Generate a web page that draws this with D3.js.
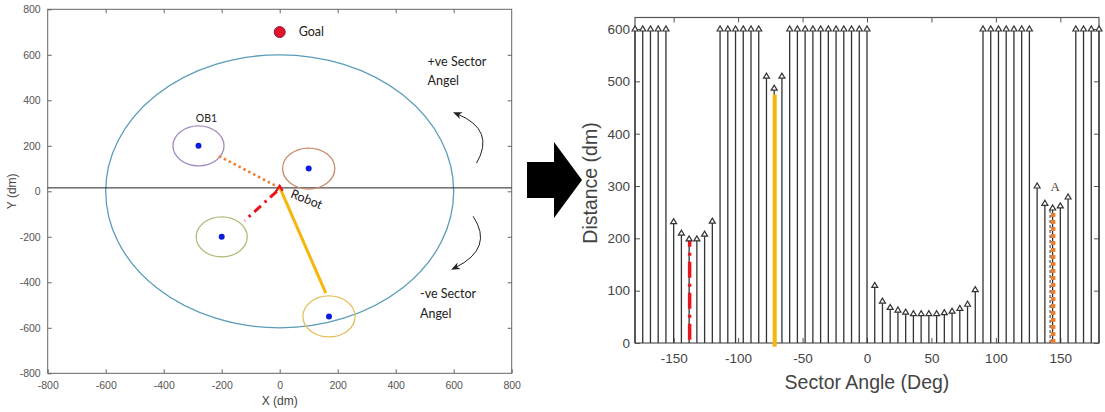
<!DOCTYPE html>
<html lang="en">
<head>
  <meta charset="utf-8">
  <title>Sector angle vs distance</title>
  <script src="https://d3js.org/d3.v7.min.js"></script>
  <style>
    body { margin: 0; background: #fff; }
    svg { display: block; font-family: "Liberation Sans", Arial, sans-serif; }
    .note { font-family: Lato, "Open Sans", sans-serif; fill: #222; }
  </style>
</head>
<body>
  <svg id="fig" width="1105" height="412"></svg>

  <script>
    // ---- left panel: workspace ----
    var goal = [0, 700];
    var robot = [0, 15];
    var sensorRange = 600;
    var obsX = [-280, 100, -200, 170];
    var obsY = [200, 100, -200, -550];
    var obsR = [88, 90, 88, 90];
    var obsColor = ["#a48ac0", "#c98a6a", "#b5b97a", "#e2bf5e"];
    var obsLabel = ["OB1", "", "", ""];
    var rayEndX = [-217, -121, 159];
    var rayEndY = [160, -129, -448];
    var rayStartX = [0, -10, 2];
    var rayStartY = [15, 0, 12];
    var rayColor = ["#ec7f35", "#e8161c", "#f6b60c"];
    var rayDash = ["2.5,3", "9,5,2.5,5", null];
    var rayWidth = [2.6, 3, 3];
    var xyTicks = [-800, -600, -400, -200, 0, 200, 400, 600, 800];

    // ---- right panel: polar histogram ----
    var angles = [-180, -174, -168, -162, -156, -150, -144, -138, -132, -126, -120,
      -114, -108, -102, -96, -90, -84, -78, -72, -66, -60, -54, -48, -42, -36, -30,
      -24, -18, -12, -6, 0, 6, 12, 18, 24, 30, 36, 42, 48, 54, 60, 66, 72, 78, 84,
      90, 96, 102, 108, 114, 120, 126, 132, 138, 144, 150, 156, 162, 168, 174, 180];
    var distances = [600, 600, 600, 600, 600, 232, 210, 199, 199, 208, 233,
      600, 600, 600, 600, 600, 600, 510, 487, 510, 600, 600, 600, 600, 600, 600,
      600, 600, 600, 600, 600, 110, 80, 68, 63, 59, 56, 56, 56, 56, 58, 61, 66, 74, 102,
      600, 600, 600, 600, 600, 600, 600, 300, 267, 258, 262, 279, 600, 600, 600, 600];
    var hlAngle = [-138, -72, 144];
    var hlTop = [197, 475, 258];
    var hlBottom = [6, -7, 0];
    var angleTicks = [-150, -100, -50, 0, 50, 100, 150];
    var distTicks = [0, 100, 200, 300, 400, 500, 600];

    var svg = d3.select("#fig");

    svg.append("defs").append("marker")
      .attr("id", "head")
      .attr("viewBox", "0 0 10 10")
      .attr("refX", 5).attr("refY", 5)
      .attr("markerWidth", 9).attr("markerHeight", 9)
      .attr("orient", "auto-start-reverse")
      .append("path")
      .attr("d", "M0,1 L10,5 L0,9 L3,5 Z")
      .attr("fill", "#222");

    // plain hyphen minus, like the original figure
    var fmt = function (d) { return String(d); };

    // ================= left panel =================
    var xL = d3.scaleLinear().domain([-800, 800]).range([47.7, 511.7]);
    var yL = d3.scaleLinear().domain([-800, 800]).range([373.3, 9.3]);
    var gL = svg.append("g");

    gL.append("rect")
      .attr("x", xL(-800)).attr("y", yL(800))
      .attr("width", xL(800) - xL(-800)).attr("height", yL(-800) - yL(800))
      .attr("fill", "none").attr("stroke", "#666").attr("stroke-width", 1);

    gL.append("g").attr("transform", "translate(0," + yL(-800) + ")")
      .call(d3.axisBottom(xL).tickValues(xyTicks).tickSize(-4).tickPadding(8).tickFormat(fmt))
      .call(function (g) { g.select(".domain").remove(); });
    gL.append("g").attr("transform", "translate(0," + yL(800) + ")")
      .call(d3.axisTop(xL).tickValues(xyTicks.slice(1, -1)).tickSize(-4).tickFormat(""))
      .call(function (g) { g.select(".domain").remove(); });
    gL.append("g").attr("transform", "translate(" + xL(-800) + ",0)")
      .call(d3.axisLeft(yL).tickValues(xyTicks).tickSize(-4).tickPadding(7).tickFormat(fmt))
      .call(function (g) { g.select(".domain").remove(); });
    gL.append("g").attr("transform", "translate(" + xL(800) + ",0)")
      .call(d3.axisRight(yL).tickValues(xyTicks.slice(1, -1)).tickSize(-4).tickFormat(""))
      .call(function (g) { g.select(".domain").remove(); });
    gL.selectAll(".tick line").attr("stroke", "#666");
    gL.selectAll(".tick text").attr("fill", "#555").attr("font-size", 10.5)
      .attr("font-family", "Liberation Sans, Arial, sans-serif");

    gL.append("text").attr("x", xL(0)).attr("y", 405)
      .attr("text-anchor", "middle").attr("font-size", 12).attr("fill", "#444").text("X (dm)");
    gL.append("text").attr("transform", "translate(16," + yL(0) + ") rotate(-90)")
      .attr("text-anchor", "middle").attr("font-size", 12).attr("fill", "#444").text("Y (dm)");

    // sensor range
    gL.append("ellipse")
      .attr("cx", xL(0)).attr("cy", yL(0))
      .attr("rx", xL(sensorRange) - xL(0)).attr("ry", yL(0) - yL(sensorRange))
      .attr("fill", "none").attr("stroke", "#5a9cb8").attr("stroke-width", 1.3);

    // horizontal reference through the robot
    gL.append("line")
      .attr("x1", xL(-800)).attr("x2", xL(800))
      .attr("y1", yL(robot[1])).attr("y2", yL(robot[1]))
      .attr("stroke", "#222").attr("stroke-width", 1);

    // obstacles
    obsX.forEach(function (ox, i) {
      gL.append("ellipse")
        .attr("cx", xL(ox)).attr("cy", yL(obsY[i]))
        .attr("rx", xL(obsR[i]) - xL(0)).attr("ry", yL(0) - yL(obsR[i]))
        .attr("fill", "none").attr("stroke", obsColor[i]).attr("stroke-width", 1.3);
      gL.append("circle")
        .attr("cx", xL(ox)).attr("cy", yL(obsY[i])).attr("r", 3)
        .attr("fill", "#0c1ed8");
      if (obsLabel[i]) {
        gL.append("text").attr("class", "note")
          .attr("x", xL(ox) + 8).attr("y", yL(obsY[i] + obsR[i]) - 4)
          .attr("text-anchor", "middle").attr("font-size", 10.5).text(obsLabel[i]);
      }
    });

    // sector rays
    rayEndX.forEach(function (ex, i) {
      var ln = gL.append("line")
        .attr("x1", xL(rayStartX[i])).attr("y1", yL(rayStartY[i]))
        .attr("x2", xL(ex)).attr("y2", yL(rayEndY[i]))
        .attr("stroke", rayColor[i]).attr("stroke-width", rayWidth[i]);
      if (rayDash[i]) ln.attr("stroke-dasharray", rayDash[i]);
    });

    // robot marker
    gL.append("path")
      .attr("d", "M" + (xL(robot[0]) - 4) + "," + (yL(robot[1]) + 4) +
        " L" + xL(robot[0]) + "," + (yL(robot[1]) - 2) +
        " L" + (xL(robot[0]) + 3) + "," + (yL(robot[1]) + 3))
      .attr("fill", "none").attr("stroke", "#e0141c").attr("stroke-width", 2.2);
    gL.append("text").attr("class", "note")
      .attr("transform", "translate(" + (xL(robot[0]) + 10) + "," + (yL(robot[1]) + 9) + ") rotate(22)")
      .attr("font-size", 12.5).text("Robot");

    // goal
    gL.append("circle")
      .attr("cx", xL(goal[0])).attr("cy", yL(goal[1])).attr("r", 5.5)
      .attr("fill", "#e3132b").attr("stroke", "#8a1a4a").attr("stroke-width", 1);
    gL.append("text").attr("class", "note")
      .attr("x", xL(goal[0]) + 19).attr("y", yL(goal[1]) + 4)
      .attr("font-size", 12.5).text("Goal");

    // sector direction notes
    gL.append("text").attr("class", "note").attr("x", xL(510)).attr("y", yL(552))
      .attr("font-size", 12.5).text("+ve Sector");
    gL.append("text").attr("class", "note").attr("x", xL(510)).attr("y", yL(466))
      .attr("font-size", 12.5).text("Angel");
    gL.append("text").attr("class", "note").attr("x", xL(484)).attr("y", yL(-470))
      .attr("font-size", 12.5).text("-ve Sector");
    gL.append("text").attr("class", "note").attr("x", xL(484)).attr("y", yL(-558))
      .attr("font-size", 12.5).text("Angel");

    gL.append("path")
      .attr("d", "M" + xL(679) + "," + yL(124) + " Q" + xL(745) + "," + yL(270) + " " + xL(612) + "," + yL(340))
      .attr("fill", "none").attr("stroke", "#222").attr("stroke-width", 1)
      .attr("marker-end", "url(#head)");
    gL.append("path")
      .attr("d", "M" + xL(667) + "," + yL(-110) + " Q" + xL(740) + "," + yL(-250) + " " + xL(605) + "," + yL(-336))
      .attr("fill", "none").attr("stroke", "#222").attr("stroke-width", 1)
      .attr("marker-end", "url(#head)");

    // ================= big arrow =================
    svg.append("path")
      .attr("d", "M527,162 L554,162 L554,142 L582,180 L554,218 L554,198 L527,198 Z")
      .attr("fill", "#000");

    // ================= right panel =================
    var xR = d3.scaleLinear().domain([-180, 180]).range([635, 1099]);
    var yR = d3.scaleLinear().domain([0, 622]).range([343, 17.5]);
    var gR = svg.append("g");

    gR.append("rect")
      .attr("x", xR(-180)).attr("y", yR(622))
      .attr("width", xR(180) - xR(-180)).attr("height", yR(0) - yR(622))
      .attr("fill", "none").attr("stroke", "#555").attr("stroke-width", 1.2);

    gR.append("g").attr("transform", "translate(0," + yR(0) + ")")
      .call(d3.axisBottom(xR).tickValues(angleTicks).tickSize(-5).tickPadding(10).tickFormat(fmt))
      .call(function (g) { g.select(".domain").remove(); });
    gR.append("g").attr("transform", "translate(0," + yR(622) + ")")
      .call(d3.axisTop(xR).tickValues(angleTicks).tickSize(-5).tickFormat(""))
      .call(function (g) { g.select(".domain").remove(); });
    gR.append("g").attr("transform", "translate(" + xR(-180) + ",0)")
      .call(d3.axisLeft(yR).tickValues(distTicks).tickSize(-5).tickPadding(5).tickFormat(fmt))
      .call(function (g) { g.select(".domain").remove(); });
    gR.append("g").attr("transform", "translate(" + xR(180) + ",0)")
      .call(d3.axisRight(yR).tickValues(distTicks).tickSize(-5).tickFormat(""))
      .call(function (g) { g.select(".domain").remove(); });
    gR.selectAll(".tick line").attr("stroke", "#555");
    gR.selectAll(".tick text").attr("fill", "#444").attr("font-size", 13.5)
      .attr("font-family", "Liberation Sans, Arial, sans-serif");

    gR.append("text").attr("x", xR(0)).attr("y", 389)
      .attr("text-anchor", "middle").attr("font-size", 19.5).attr("fill", "#444")
      .text("Sector Angle (Deg)");
    gR.append("text").attr("transform", "translate(597,183) rotate(-90)")
      .attr("text-anchor", "middle").attr("font-size", 19.5).attr("fill", "#444")
      .text("Distance (dm)");

    // stems
    gR.selectAll("line.stem").data(angles).join("line")
      .attr("class", "stem")
      .attr("x1", function (d) { return xR(d); }).attr("x2", function (d) { return xR(d); })
      .attr("y1", yR(0))
      .attr("y2", function (d, i) { return yR(distances[i]); })
      .attr("stroke", "#333").attr("stroke-width", 1.3);

    // highlighted sectors
    var hlColor = ["#e8161c", "#f6b60c", "#ee7d2e"];
    var hlDash = ["16,6,3,6", null, "4,3"];
    var hlWidth = [3.5, 4, 4.5];
    hlAngle.forEach(function (a, i) {
      if (i === 2) {
        gR.append("line")
          .attr("x1", xR(a) - 2.5).attr("x2", xR(a) - 2.5)
          .attr("y1", yR(0)).attr("y2", yR(hlTop[i]))
          .attr("stroke", "#333").attr("stroke-width", 1)
          .attr("stroke-dasharray", "3,2");
      }
      var ln = gR.append("line")
        .attr("x1", xR(a) + 0.5).attr("x2", xR(a) + 0.5)
        .attr("y1", yR(hlBottom[i])).attr("y2", yR(hlTop[i]))
        .attr("stroke", hlColor[i]).attr("stroke-width", hlWidth[i]);
      if (hlDash[i]) ln.attr("stroke-dasharray", hlDash[i]);
    });

    // stem markers
    gR.selectAll("path.tip").data(angles).join("path")
      .attr("class", "tip")
      .attr("transform", function (d, i) { return "translate(" + xR(d) + "," + yR(distances[i]) + ")"; })
      .attr("d", "M-3,2 L0,-3 L3,2 Z")
      .attr("fill", "#fff").attr("stroke", "#333").attr("stroke-width", 1.2);

    gR.append("text")
      .attr("x", xR(146)).attr("y", yR(290))
      .attr("text-anchor", "middle").attr("font-size", 13)
      .attr("font-family", "Liberation Serif, 'Times New Roman', serif")
      .attr("fill", "#5a3e2a").text("A");
  </script>
</body>
</html>
